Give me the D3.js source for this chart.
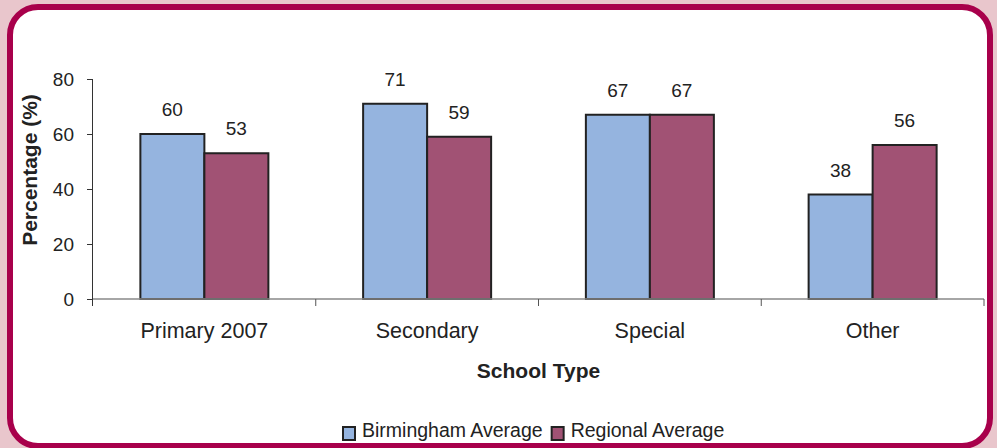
<!DOCTYPE html>
<html>
<head>
<meta charset="utf-8">
<script src="https://cdn.jsdelivr.net/npm/d3@7"></script>
<style>
  html, body { margin: 0; padding: 0; background: #e9c6cc; }
  svg { display: block; font-family: "Liberation Sans", Arial, sans-serif; }
</style>
</head>
<body>
<svg id="chart" width="997" height="448"></svg>
<script>
// School types and the two averages for each
const categories = ["Primary 2007", "Secondary", "Special", "Other"];
const seriesNames = ["Birmingham Average", "Regional Average"];
const birmingham = [60, 71, 67, 38];
const regional = [53, 59, 67, 56];
const yTicks = [0, 20, 40, 60, 80];
const colors = ["#95b4df", "#a15274"];

const svg = d3.select("#chart");
const W = 997, H = 448;

// Panel with rounded crimson frame
svg.append("rect")
  .attr("x", 10).attr("y", 7)
  .attr("width", W - 10 - 7).attr("height", 439)
  .attr("rx", 28).attr("ry", 28)
  .attr("fill", "#ffffff")
  .attr("stroke", "#a8004b").attr("stroke-width", 6);

const plot = { left: 93, right: 984, top: 79, bottom: 299 };

const x = d3.scaleBand().domain(categories).range([plot.left, plot.right]);
const y = d3.scaleLinear().domain([0, 80]).range([plot.bottom, plot.top]);
const barW = 64;

const g = svg.append("g");

// Y axis
const yAxis = g.append("g")
  .attr("transform", `translate(${plot.left},0)`)
  .call(d3.axisLeft(y).tickValues(yTicks).tickSize(6).tickPadding(13));
yAxis.select(".domain").attr("stroke", "#333").attr("d", `M-0.5,${plot.top}V${plot.bottom + 7}`);
yAxis.selectAll(".tick line").attr("stroke", "#333");
yAxis.selectAll(".tick text")
  .attr("font-size", 19).attr("fill", "#222")
  .attr("font-family", "Liberation Sans, Arial, sans-serif");

// Bars
const data = categories.map((c, i) => ({ c, vals: [birmingham[i], regional[i]] }));
const groups = g.selectAll(".cat").data(data).join("g").attr("class", "cat");
groups.each(function (d) {
  const cx = x(d.c) + x.bandwidth() / 2;
  const sel = d3.select(this);
  d.vals.forEach((v, s) => {
    const x0 = cx - barW + s * barW;
    sel.append("rect")
      .attr("x", x0).attr("y", y(v))
      .attr("width", barW).attr("height", y(0) - y(v))
      .attr("fill", colors[s])
      .attr("stroke", "#222").attr("stroke-width", 2);
    sel.append("text")
      .attr("x", x0 + barW / 2).attr("y", y(v) - 18)
      .attr("text-anchor", "middle")
      .attr("font-size", 19).attr("fill", "#222")
      .text(v);
  });
});

// X axis (drawn over bar bottoms)
const xAxisG = g.append("g").attr("transform", `translate(0,${plot.bottom})`);
xAxisG.append("line")
  .attr("x1", plot.left).attr("x2", plot.right)
  .attr("y1", 0).attr("y2", 0)
  .attr("stroke", "#888").attr("stroke-width", 1.5);
const bounds = categories.map(c => x(c) + x.bandwidth());
xAxisG.selectAll(".sep").data(bounds).join("line")
  .attr("x1", d => d).attr("x2", d => d)
  .attr("y1", 0).attr("y2", 7)
  .attr("stroke", "#555");
xAxisG.selectAll(".lab").data(categories).join("text")
  .attr("x", d => x(d) + x.bandwidth() / 2)
  .attr("y", 39)
  .attr("text-anchor", "middle")
  .attr("font-size", 21.5).attr("fill", "#222")
  .text(d => d);

// Axis titles
svg.append("text")
  .attr("x", (plot.left + plot.right) / 2).attr("y", 378)
  .attr("text-anchor", "middle")
  .attr("font-size", 21).attr("font-weight", "bold").attr("fill", "#222")
  .text("School Type");
svg.append("text")
  .attr("transform", "translate(37,170) rotate(-90)")
  .attr("text-anchor", "middle")
  .attr("font-size", 21).attr("font-weight", "bold").attr("fill", "#222")
  .text("Percentage (%)");

// Legend
const legend = svg.append("g").attr("transform", "translate(343,427)");
let lx = 0;
seriesNames.forEach((name, i) => {
  const item = legend.append("g").attr("transform", `translate(${lx},0)`);
  item.append("rect")
    .attr("x", 0).attr("y", 0).attr("width", 12).attr("height", 13)
    .attr("fill", colors[i]).attr("stroke", "#222").attr("stroke-width", 2);
  const t = item.append("text")
    .attr("x", 19).attr("y", 10)
    .attr("font-size", 19.5).attr("fill", "#222")
    .text(name);
  lx += 19 + t.node().getComputedTextLength() + 9;
});
</script>
</body>
</html>
